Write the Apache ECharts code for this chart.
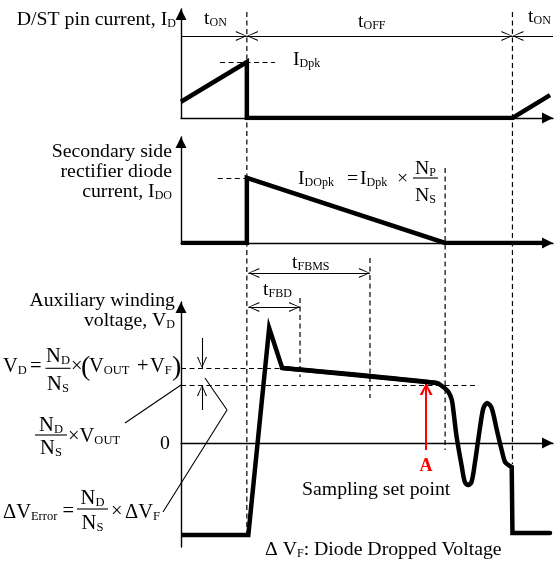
<!DOCTYPE html>
<html><head><meta charset="utf-8">
<script src="https://cdn.jsdelivr.net/npm/echarts@6/dist/echarts.min.js"></script>
<style>html,body{margin:0;padding:0;background:#fff}#c{width:554px;height:564px}</style>
</head><body><div id="c"></div><script>
// ---------- data (time in arbitrary units, 0..100 across the time axis) ----------
const idTime = [0, 17.7, 17.7, 89.1, 99.2];
const idCurrent = [0.29, 1.0, 0, 0, 0.41];
const idoTime = [0, 17.7, 17.7, 71.0, 97.3];
const idoCurrent = [0, 0, 2.0, 0, 0];
const vdTime = [0, 18.1, 23.7, 27.2, 68.7, 70.5, 71.9, 72.8, 73.2, 74.1, 75.5, 76.3, 77.2, 78.1, 79.0, 80.4, 81.3, 82.3, 83.5, 84.9, 86.2, 87.1, 88.0, 88.9, 89.1, 99.2];
const vdVoltage = [-9.2, -9.2, 11.5, 7.5, 6.0, 5.6, 5.1, 4.3, 3.3, 0.6, -2.4, -3.9, -4.2, -3.9, -2.0, 1.6, 3.5, 4.0, 3.5, 1.3, -0.7, -1.9, -2.2, -2.4, -9.0, -9.0];
const levelIDpk = 1.0;
const levelIDOpk = 2.0;
const levelVD = 7.5;
const levelVOUT = 5.8;
const tOn = 17.7, tOff = 89.1, tDiodeEnd = 71.0, tFBD = 32.0, tFBMS = 50.8, tSample = 65.9;
const sampleVoltage = 6.0;
const guideTimes = [tOn, tOff, tDiodeEnd, tFBD, tFBMS];

// ---------- layout ----------
const FONT = 'Liberation Serif';
const PLOT_LEFT = 181, PLOT_RIGHT = 1, W = 554;
const pxPerUnit = (W - PLOT_LEFT - PLOT_RIGHT) / 100;
const guideSpan = [[12, 534], [12, 464], [168, 450], [298, 377], [258, 398]]; // px on overlay
const BLACK = '#000';
const chevron = 'path://M50,0L100,100L88,100L50,14L12,100L0,100Z';
const chevronBold = 'path://M50,0L100,100L78,100L50,28L22,100L0,100Z';
const dashed = {color: BLACK, width: 1.2, type: [5, 3.5]};

function toPairs(xs, ys) { return xs.map((x, i) => [x, ys[i]]); }

const axisArrow = {show: true, symbol: ['none', 'triangle'], symbolSize: [11, 11], symbolOffset: [0, -5.5], lineStyle: {color: BLACK, width: 1.4}};
function xAx(g) {
  return {type: 'value', gridIndex: g, min: 0, max: 100,
    axisLine: Object.assign({onZero: true}, axisArrow), axisTick: {show: false}, axisLabel: {show: false}, splitLine: {show: false}};
}
function yAx(g, min, max) {
  return {type: 'value', gridIndex: g, min: min, max: max,
    axisLine: axisArrow, axisTick: {show: false}, axisLabel: {show: false}, splitLine: {show: false}};
}
function wave(g, data, smooth) {
  return {type: 'line', xAxisIndex: g, yAxisIndex: g, data: data, symbol: 'none', z: 5, animation: false, silent: true,
    smooth: smooth || false, lineStyle: {color: BLACK, width: 4.5, join: 'miter', cap: 'butt'}};
}
function hLine(x1, x2, y) { return [{coord: [x1, y]}, {coord: [x2, y]}]; }
function arrowLine(x1, y1, x2, y2, headStart, headEnd, sym, size) {
  return [
    {coord: [x1, y1], symbol: headStart ? sym : 'none', symbolSize: size, symbolOffset: [0, size[1] / 2]},
    {coord: [x2, y2], symbol: headEnd ? sym : 'none', symbolSize: size, symbolOffset: [0, size[1] / 2]}
  ];
}

const RICH = {
  s: {fontFamily: FONT, fontSize: 12, lineHeight: 8, verticalAlign: 'bottom', fill: BLACK},
  ms: {fontFamily: FONT, fontSize: 12.5, verticalAlign: 'bottom', fill: BLACK}
};
const F = 19.8; // text font size
const M = 20.5; // math font size
function text(x, y, str, opt) {
  opt = opt || {};
  return {type: 'text', x: x, y: y, silent: true, z: 20, style: {
    text: str, fill: opt.color || BLACK, align: opt.align || 'left', verticalAlign: 'middle',
    fontFamily: FONT, fontSize: opt.size || F, fontWeight: opt.weight || 'normal', rich: RICH}};
}
function frac(cx, by, w, num, den, size, up, down) {
  return [
    text(cx, by - up, num, {align: 'center', size: size}),
    {type: 'line', silent: true, z: 20, shape: {x1: cx - w / 2, y1: by, x2: cx + w / 2, y2: by}, style: {stroke: BLACK, lineWidth: 1.1}},
    text(cx, by + down, den, {align: 'center', size: size})
  ];
}

const graphics = [].concat(
  [
    text(176, 20, 'D/ST pin current, I{s|D}', {align: 'right'}),
    text(204, 18.5, 't{s|ON}'),
    text(358, 22, 't{s|OFF}'),
    text(528, 17, 't{s|ON}'),
    text(293, 60, 'I{s|Dpk}'),
    text(172, 151.5, 'Secondary side', {align: 'right'}),
    text(172, 172, 'rectifier diode', {align: 'right'}),
    text(172, 192, 'current, I{s|DO}', {align: 'right'}),
    text(298, 178.5, 'I{s|DOpk}'),
    text(347, 178.5, '='),
    text(360, 178.5, 'I{s|Dpk}'),
    text(397, 178.5, '\u00d7'),
    text(175, 300.5, 'Auxiliary winding', {align: 'right'}),
    text(175, 320.5, 'voltage, V{s|D}', {align: 'right'}),
    // V_D = N_D/N_S x (V_OUT + V_F)
    text(3, 366.5, 'V{ms|D}', {size: M}),
    text(30, 366.5, '=', {size: M}),
    text(71, 367, '\u00d7', {size: M}),
    text(81, 368, '(', {size: 28}),
    text(89, 366.5, 'V{ms|OUT}', {size: M}),
    text(137, 367, '+', {size: M}),
    text(150, 366.5, 'V{ms|F}', {size: M}),
    text(172, 368, ')', {size: 28}),
    // N_D/N_S x V_OUT
    text(68, 437, '\u00d7V{ms|OUT}', {size: M}),
    // dV_Error = N_D/N_S x dV_F
    text(3, 513, '\u0394V{ms|Error}', {size: M}),
    text(62.5, 512, '=', {size: M}),
    text(111, 512, '\u00d7', {size: M}),
    text(125, 513, '\u0394V{ms|F}', {size: M}),
    text(165, 444, '0', {align: 'center'}),
    text(426, 466, 'A', {align: 'center', color: '#ff0000', weight: 'bold', size: 18}),
    text(302, 490, 'Sampling set point'),
    text(265, 550, '\u0394 V{s|F}: Diode Dropped Voltage'),
    text(292, 263, 't{s|FBMS}'),
    text(263, 290, 't{s|FBD}')
  ],
  frac(425.5, 178, 25, 'N{s|P}', 'N{s|S}', F, 9, 18),
  frac(58, 368.3, 25, 'N{ms|D}', 'N{ms|S}', M, 11.8, 16.7),
  frac(51, 435, 32, 'N{ms|D}', 'N{ms|S}', M, 9, 13.5),
  frac(92.5, 509, 31, 'N{ms|D}', 'N{ms|S}', M, 10, 14.5)
);

// ---------- overlay series (guides, dimension arrows, leader lines) ----------
const overlaySeries = guideTimes.map((t, i) => ({
  type: 'line', xAxisIndex: 3, yAxisIndex: 3, data: [[t, guideSpan[i][0]], [t, guideSpan[i][1]]],
  symbol: 'none', z: 2, animation: false, silent: true, lineStyle: dashed
}));
overlaySeries[0].markLine = {
  silent: true, animation: false, label: {show: false}, emphasis: {disabled: true},
  lineStyle: {color: BLACK, width: 1.1, type: 'solid'},
  data: [
    arrowLine(0, 36, tOn, 36, false, true, chevron, [10, 11]),
    arrowLine(tOn, 36, tOff, 36, true, true, chevron, [10, 11]),
    arrowLine(100, 36, tOff, 36, false, true, chevron, [10, 11]),
    arrowLine(18.1, 273, tFBMS, 273, true, true, chevron, [10, 11]),
    arrowLine(18.1, 307, tFBD, 307, true, true, chevron, [10, 11]),
    arrowLine(5.65, 338, 5.65, 368, false, true, chevron, [10, 11]),
    arrowLine(5.65, 410, 5.65, 385, false, true, chevron, [10, 11])
  ]
};
overlaySeries.push({
  type: 'line', xAxisIndex: 3, yAxisIndex: 3, symbol: 'none', z: 2, animation: false, silent: true,
  data: [[6.45, 378], [12.37, 410], [-4.84, 512]], lineStyle: {color: BLACK, width: 1.1}
});
overlaySeries.push({
  type: 'line', xAxisIndex: 3, yAxisIndex: 3, symbol: 'none', z: 2, animation: false, silent: true,
  data: [[0, 385], [-15.05, 423]], lineStyle: {color: BLACK, width: 1.1}
});

const vdPairs = toPairs(vdTime, vdVoltage);
const w1 = wave(0, toPairs(idTime, idCurrent));
w1.markLine = {silent: true, animation: false, symbol: 'none', label: {show: false}, lineStyle: dashed, data: [hLine(10.5, 25.3, levelIDpk)]};
const w2 = wave(1, toPairs(idoTime, idoCurrent));
w2.markLine = {silent: true, animation: false, symbol: 'none', label: {show: false}, lineStyle: dashed, data: [hLine(9.9, tOn, levelIDOpk)]};
const w3a = wave(2, vdPairs.slice(0, 5));
w3a.markLine = {silent: true, animation: false, symbol: 'none', label: {show: false}, lineStyle: dashed,
  data: [hLine(0, 27.2, levelVD), hLine(0, 79.6, levelVOUT)]};
const w3b = wave(2, vdPairs.slice(3, 24), 0.3);
w3b.lineStyle.cap = 'round';
const w3c = wave(2, vdPairs.slice(23));
w3c.lineStyle.cap = 'round';
const red = {type: 'line', xAxisIndex: 2, yAxisIndex: 2, data: [], z: 6, silent: true, animation: false,
  markLine: {silent: true, animation: false, label: {show: false}, emphasis: {disabled: true},
    lineStyle: {color: '#ff0000', width: 2, type: 'solid'},
    data: [arrowLine(tSample, -0.7, tSample, sampleVoltage, false, true, chevronBold, [13, 12])]}};

const option = {
  animation: false,
  backgroundColor: '#fff',
  grid: [
    {left: PLOT_LEFT, right: PLOT_RIGHT, top: 9, bottom: 446, outerBoundsMode: 'none'},
    {left: PLOT_LEFT, right: PLOT_RIGHT, top: 137, bottom: 321, outerBoundsMode: 'none'},
    {left: PLOT_LEFT, right: PLOT_RIGHT, top: 302, bottom: 17, outerBoundsMode: 'none'},
    {left: 0, right: PLOT_RIGHT, top: 0, bottom: 0, outerBoundsMode: 'none'}
  ],
  xAxis: [xAx(0), xAx(1), xAx(2),
    {type: 'value', gridIndex: 3, min: -PLOT_LEFT / pxPerUnit, max: 100, show: false}],
  yAxis: [yAx(0, 0, 1.95), yAx(1, 0, 3.25), yAx(2, -10.4, 14.1),
    {type: 'value', gridIndex: 3, min: 0, max: 564, inverse: true, show: false}],
  graphic: graphics,
  series: [w1, w2, w3a, w3b, w3c, red].concat(overlaySeries)
};
const chart = echarts.init(document.getElementById('c'), null, {renderer: 'canvas'});
chart.setOption(option);
</script></body></html>
